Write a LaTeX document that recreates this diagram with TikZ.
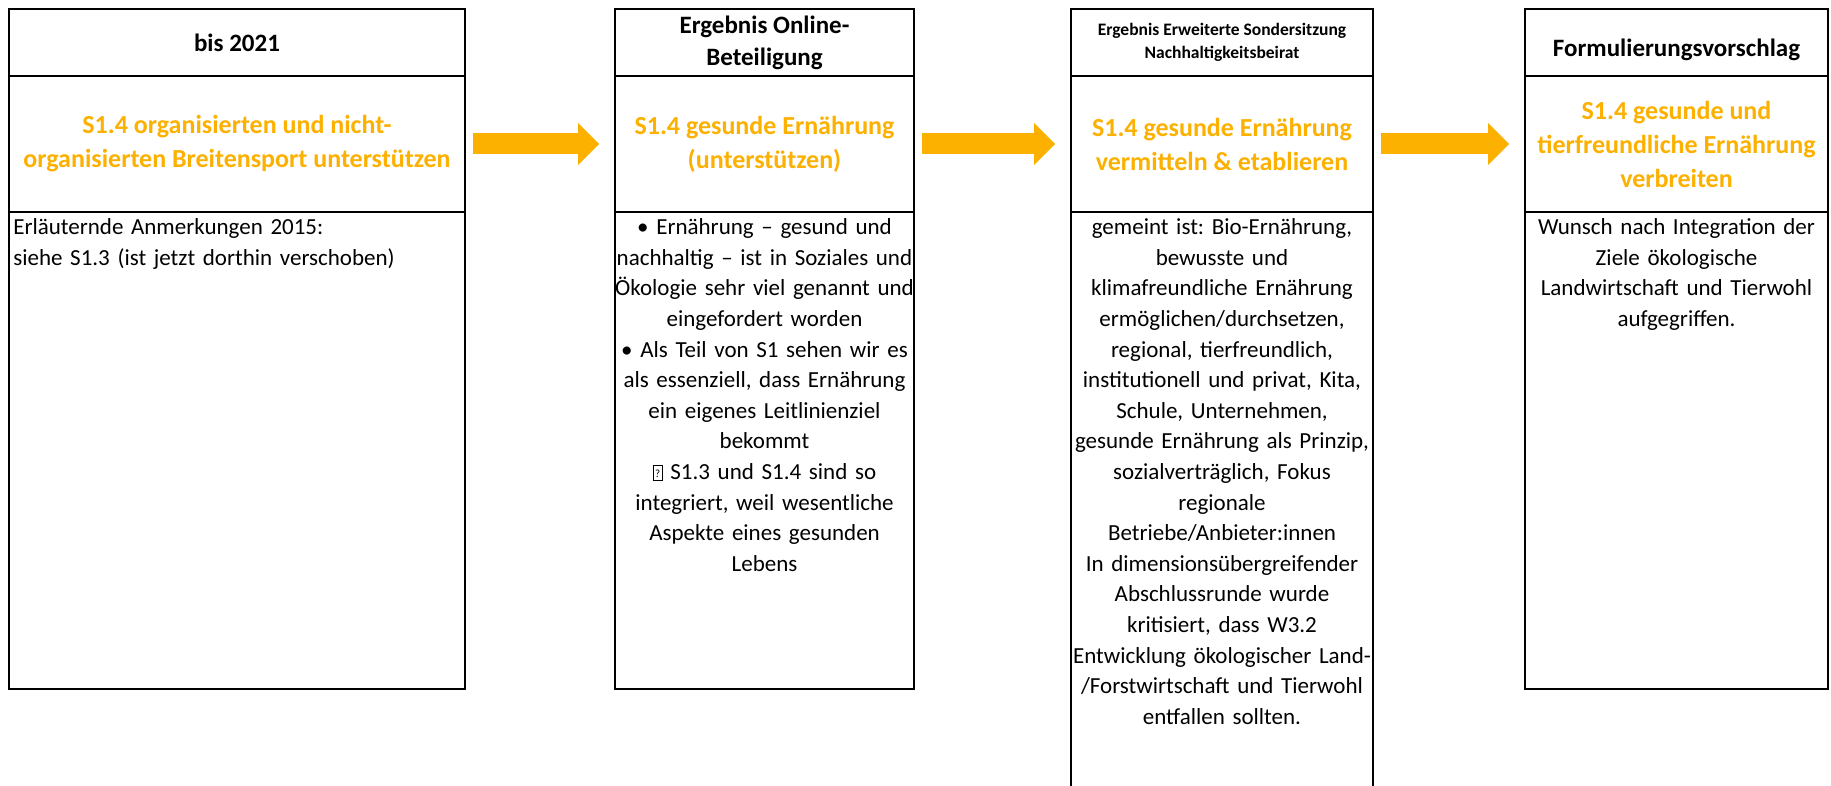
\documentclass[tikz,border=0pt]{standalone}
\usepackage{fontspec}
\setmainfont{Carlito}
\usetikzlibrary{positioning,arrows.meta}
\definecolor{gelb}{RGB}{252,176,0}
\newcommand{\tofu}{{\fboxsep=0pt\fboxrule=0.8pt\framebox[10pt][c]{\rule{0pt}{14pt}\raisebox{2pt}{\fontsize{11}{11}\selectfont ?}}}}
\frenchspacing

\begin{document}
\begin{tikzpicture}[x=1pt, y=-1pt, line width=2.6pt,
    kopf/.style={draw, outer sep=0pt, inner sep=0pt, minimum height=67pt, align=center, font=\fontsize{25}{32}\selectfont\bfseries},
    ziel/.style={draw, outer sep=0pt, inner sep=0pt, minimum height=136pt, align=center, text=gelb, font=\fontsize{26}{34}\selectfont\bfseries},
    notiz/.style={anchor=north, inner sep=0pt, align=center, text width=330pt, font=\fontsize{23}{30.6}\selectfont},
    pfeil/.style={gelb, line width=21pt, -{Triangle[length=21pt, width=42pt, line width=0pt]}, shorten <=8pt, shorten >=16pt}]
  \useasboundingbox (0,0) rectangle (1831,786);
  % Spalten: bis 2021 -> Online-Beteiligung -> Sondersitzung -> Vorschlag
  \node[kopf, minimum width=456pt] (kopfA) at (237,42.5) {bis 2021};
  \node[ziel, minimum width=456pt, below=0pt of kopfA] (zielA) {S1.4 organisierten und nicht-\\organisierten Breitensport unterstützen};
  \draw (zielA.south west) rectangle ++(456,477);
  \node[notiz, anchor=north west, align=left, text width=450pt] (notizA) at ([xshift=3pt]zielA.south west)
    {\strut Erläuternde Anmerkungen 2015:\\siehe S1.3 (ist jetzt dorthin verschoben)};

  \node[kopf, minimum width=299pt] (kopfB) at (764.5,42.5) {Ergebnis Online-\\Beteiligung};
  \node[ziel, minimum width=299pt, below=0pt of kopfB] (zielB) {S1.4 gesunde Ernährung\\(unterstützen)};
  \draw (zielB.south west) rectangle ++(299,477);
  \node[notiz] (notizB) at (zielB.south)
    {\strut • Ernährung – gesund und\\nachhaltig – ist in Soziales und\\Ökologie sehr viel genannt und\\eingefordert worden\\
     • Als Teil von S1 sehen wir es\\als essenziell, dass Ernährung\\ein eigenes Leitlinienziel\\bekommt\\
     \tofu{} S1.3 und S1.4 sind so\\integriert, weil wesentliche\\Aspekte eines gesunden\\Lebens};

  \node[kopf, minimum width=302pt, font=\fontsize{17.5}{23}\selectfont\bfseries] (kopfC) at (1222,42.5) {Ergebnis Erweiterte Sondersitzung\\Nachhaltigkeitsbeirat};
  \node[ziel, minimum width=302pt, below=0pt of kopfC] (zielC) {S1.4 gesunde Ernährung\\vermitteln \& etablieren};
  \draw (zielC.south west) -- ++(0,580) (zielC.south east) -- ++(0,580);
  \node[notiz] (notizC) at (zielC.south)
    {\strut gemeint ist: Bio-Ernährung,\\bewusste und\\klimafreundliche Ernährung\\ermöglichen/durchsetzen,\\regional, tierfreundlich,\\
     institutionell und privat, Kita,\\Schule, Unternehmen,\\gesunde Ernährung als Prinzip,\\sozialverträglich, Fokus\\regionale\\
     Betriebe/Anbieter:innen\\In dimensionsübergreifender\\Abschlussrunde wurde\\kritisiert, dass W3.2\\
     Entwicklung ökologischer Land-\\/Forstwirtschaft und Tierwohl\\entfallen sollten.};

  \node[kopf, minimum width=303pt] (kopfD) at (1676.5,42.5) {\mbox{}\\Formulierungsvorschlag};
  \node[ziel, minimum width=303pt, below=0pt of kopfD] (zielD) {S1.4 gesunde und\\tierfreundliche Ernährung\\verbreiten};
  \draw (zielD.south west) rectangle ++(303,477);
  \node[notiz] (notizD) at (zielD.south)
    {\strut Wunsch nach Integration der\\Ziele ökologische\\Landwirtschaft und Tierwohl\\aufgegriffen.};

  \draw[pfeil] (zielA) -- (zielB);
  \draw[pfeil] (zielB) -- (zielC);
  \draw[pfeil] (zielC) -- (zielD);
\end{tikzpicture}
\end{document}
